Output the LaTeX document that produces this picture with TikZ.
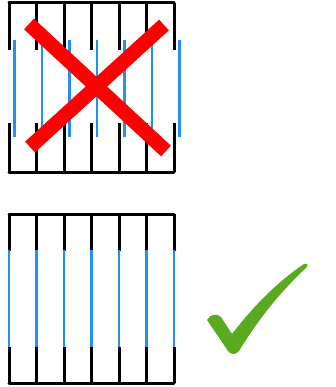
\documentclass[tikz,border=0pt]{standalone}
\begin{document}
\begin{tikzpicture}[x=1pt,y=-1pt,
  frame/.style={draw=black,line width=3pt,line cap=round,line join=round},
  blk/.style={draw=black,line width=3pt},
  blu/.style={draw=bluel,line width=2.6pt},
  crossline/.style={draw=red,line width=14.5pt}]
\definecolor{bluel}{RGB}{35,145,240}
\definecolor{checkgreen}{RGB}{88,170,30}
\useasboundingbox (0,0) rectangle (335,387);
% top (wrong) panel
\draw[frame] (9,3) -- (174,3);
\draw[frame] (9,172) -- (174,172);
\foreach \x in {9,36.5,64,91.5,119,146.5,174}{
  \draw[blk] (\x,3) -- (\x,50);
  \draw[blk] (\x,123) -- (\x,172);
  \draw[blu] (\x+5.3,40) -- (\x+5.3,137);
}
\draw[crossline] (29,24) -- (166,151);
\draw[crossline] (164,25) -- (30,147);
% bottom (right) panel
\draw[frame] (9,214) -- (174,214);
\draw[frame] (9,383) -- (174,383);
\foreach \x in {9,36.5,64,91.5,119,146.5,174}{
  \draw[blk] (\x,214) -- (\x,251);
  \draw[blu] (\x,250) -- (\x,348);
  \draw[blk] (\x,347) -- (\x,383);
}
% check mark
\fill[checkgreen] (207,320) .. controls (210,314) and (217,313) .. (221,317)
  -- (232,334) .. controls (255,304) and (280,280) .. (304,264)
  .. controls (307,263) and (309,265) .. (306,268)
  .. controls (280,292) and (258,320) .. (239,351)
  .. controls (236,355) and (231,355) .. (228,351)
  -- cycle;
\end{tikzpicture}
\end{document}
